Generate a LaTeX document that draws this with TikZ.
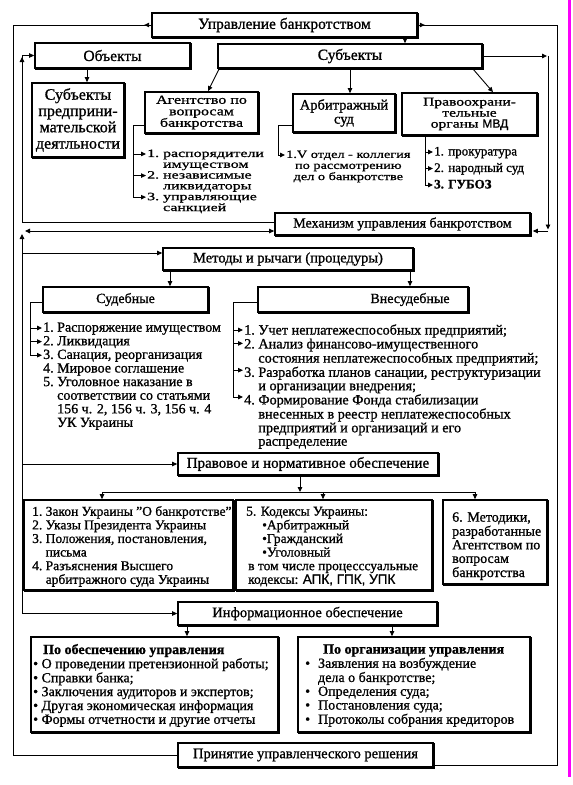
\documentclass[tikz,border=0pt]{standalone}
\usepackage{fontspec}
\setmainfont[FakeBold=1.0]{Liberation Serif}
\setsansfont[FakeBold=0.8]{Liberation Sans}
\newfontfamily\wf[FakeStretch=1.3,FakeBold=1.0]{Liberation Serif}
\newfontfamily\wwf[FakeStretch=1.42,FakeBold=1.0]{Liberation Serif}
\usetikzlibrary{arrows.meta}
\newcommand\fsz[2]{\fontsize{#1}{#2}\selectfont}
\definecolor{mag}{RGB}{250,0,250}
\begin{document}
\begin{tikzpicture}[x=1pt,y=-1pt,
 box/.style={draw,line width=1.7pt,inner sep=0pt,align=center,font=\fsz{14.5}{15}},
 ln/.style={line width=0.9pt},
 arr/.style={line width=0.9pt,-{Triangle[length=5pt,width=4.5pt]}},
 dbl/.style={line width=0.9pt,{Triangle[length=5pt,width=4.5pt]}-{Triangle[length=5pt,width=4.5pt]}},
 shd/.style={line width=1.1pt},
 lst/.style={inner sep=0pt,anchor=north west}]
\useasboundingbox (0,0) rectangle (573,785);
\fill[white] (0,0) rectangle (573,785);
\draw[mag,line width=3pt] (569.5,0) -- (569.5,777);

% ---------- boxes
\node[box,minimum width=265pt,minimum height=24pt,font=\fsz{15.5}{16}] (U) at (284.5,25) {Управление банкротством};
\node[box,minimum width=155pt,minimum height=25pt,font=\fsz{15.5}{16}] (Obj) at (112.5,55.5) {Объекты};
\node[box,minimum width=264pt,minimum height=24pt,font=\fsz{15.5}{16}] (Subj) at (350,56) {Субъекты};
\node[box,minimum width=92pt,minimum height=74pt,font=\fsz{16}{16.3}] (SPD) at (78,120) {Субъекты\\предприни-\\мательской\\деятльности};
\node[box,minimum width=113pt,minimum height=41pt,font=\wf\fsz{12.3}{11.5}] (Ag) at (201.5,112.5) {Агентство по\\вопросам\\банкротства};
\node[box,minimum width=102pt,minimum height=38pt,font=\fsz{14.5}{14}] (Arb) at (344,113) {Арбитражный\\суд};
\node[box,minimum width=135pt,minimum height=42pt,font=\wf\fsz{12}{11}] (MVD) at (469.5,114) {Правоохрани-\\тельные\\органы {\sffamily МВД}};
\node[box,minimum width=255pt,minimum height=22pt,font=\fsz{14}{15}] (Mech) at (402.5,224) {Механизм управления банкротством};
\node[box,minimum width=250pt,minimum height=22pt] (Met) at (288,259) {Методы и рычаги (процедуры)};
\node[box,minimum width=165pt,minimum height=25pt,font=\fsz{14}{15}] (Sud) at (125.5,299.5) {Судебные};
\node[box,minimum width=210pt,minimum height=25pt] (Vns) at (363,299.5) {};
\node[inner sep=0pt,font=\fsz{14}{15}] (VnsT) at (410,299.5) {Внесудебные};
\node[box,minimum width=260pt,minimum height=22pt,font=\fsz{15}{15}] (Prv) at (308,464) {Правовое и нормативное обеспечение};
\node[box,minimum width=209pt,minimum height=90pt] (B1) at (128.5,545) {};
\node[box,minimum width=196pt,minimum height=90pt] (B2) at (334,545) {};
\node[box,minimum width=104pt,minimum height=84pt] (B3) at (495,542) {};
\node[box,minimum width=259pt,minimum height=23pt] (Inf) at (307.5,613.5) {Информационное обеспечение};
\node[box,minimum width=247pt,minimum height=95pt] (IL) at (154.5,684.5) {};
\node[box,minimum width=232pt,minimum height=95pt] (IR) at (414,684.5) {};
\node[box,minimum width=255pt,minimum height=24pt] (Pr) at (305.5,755) {Принятие управленческого решения};

% heavier bottom and right edges
\foreach \n in {U,Obj,Subj,SPD,Ag,Arb,MVD,Mech,Met,Sud,Vns,Prv,B1,B2,B3,Inf,IL,IR,Pr}
  \draw[shd] ([xshift=1pt,yshift=-1pt]\n.south west) -- ([xshift=1pt,yshift=-1pt]\n.south east) -- ([xshift=1pt,yshift=-1pt]\n.north east);

% ---------- lists
\node[lst,font=\wwf\fsz{11.2}{10.8}] (agl) at (147,149.2) {\begin{tabular}{@{}l@{\ }l@{}}1. & распорядители\\ & имуществом\\2. & независимые\\ & ликвидаторы\\3. & управляющие\\ & санкцией\end{tabular}};
\node[lst,font=\wf\fsz{11}{11}] (arl) at (286,150) {\begin{tabular}{@{}c@{}}1.V отдел - коллегия\\по рассмотрению\\дел о банкротстве\end{tabular}};
\node[lst,font=\fsz{13}{16.5}] (mvl) at (434,143.7) {\begin{tabular}{@{}l@{}}1. прокуратура\\2. народный суд\\\textbf{3. ГУБОЗ}\end{tabular}};
\node[lst,font=\fsz{14}{13.6}] (sdl) at (43,322) {\begin{tabular}{@{}l@{\ }l@{}}1. & Распоряжение имуществом\\2. & Ликвидация\\3. & Санация, реорганизация\\4. & Мировое соглашение\\5. & Уголовное наказание в\\ & соответствии со статьями\\ & 156 ч. 2, 156 ч. 3, 156 ч. 4\\ & УК Украины\end{tabular}};
\node[lst,font=\fsz{14.2}{13.4}] (vnl) at (244,324.2) {\begin{tabular}{@{}l@{\ }l@{}}1. & Учет неплатежеспособных предприятий;\\2. & Анализ финансово-имущественного\\ & состояния неплатежеспособных предприятий;\\3. & Разработка планов санации, реструктуризации\\ & и организации внедрения;\\4. & Формирование Фонда стабилизации\\ & внесенных в реестр неплатежеспособных\\ & предприятий и организаций и его\\ & распределение\end{tabular}};
\node[lst,font=\fsz{13.5}{13.6}] (b1l) at (32,505.9) {\begin{tabular}{@{}l@{\ }l@{}}1. & Закон Украины "О банкротстве"\\2. & Указы Президента Украины\\3. & Положения, постановления,\\ & письма\\4. & Разъяснения Высшего\\ & арбитражного суда Украины\end{tabular}};
\node[lst,font=\fsz{13.5}{13.6}] (b2l) at (246,505.9) {\begin{tabular}{@{}l@{}}5. Кодексы Украины:\\\hspace*{16pt}•Арбитражный\\\hspace*{16pt}•Гражданский\\\hspace*{16pt}•Уголовный\\\hspace*{2pt}в том числе процесссуальные\\\hspace*{2pt}кодексы: {\sffamily АПК, ГПК, УПК}\end{tabular}};
\node[lst,font=\fsz{14}{13.6}] (b3l) at (452,511.9) {\begin{tabular}{@{}l@{}}6. Методики,\\разработанные\\Агентством по\\вопросам\\банкротства\end{tabular}};
\node[lst,font=\fsz{14}{13.8}] (ill) at (33,643.8) {\begin{tabular}{@{}l@{}}\hspace*{10pt}\textbf{По обеспечению управления}\\• О проведении претензионной работы;\\• Справки банка;\\• Заключения аудиторов и экспертов;\\• Другая экономическая информация\\• Формы отчетности и другие отчеты\end{tabular}};
\node[lst,font=\fsz{14}{13.8}] (irl) at (305,643.8) {\begin{tabular}{@{}l@{\hspace{8pt}}l@{}}\multicolumn{2}{@{}l@{}}{\hspace*{18pt}\textbf{По организации управления}}\\•&Заявления на возбуждение\\ & дела о банкротстве;\\•&Определения суда;\\•&Постановления суда;\\•&Протоколы собрания кредиторов\end{tabular}};

% ---------- connectors, top
\coordinate (c405) at (405,0);
\draw[arr] (U.south -| c405) -- (Subj.north -| c405);
\coordinate (c87) at (87,0);
\draw[arr] (Obj.south -| c87) -- (SPD.north -| c87);
\draw[arr] ([xshift=2pt]Subj.south west) -- ([xshift=6.5pt]Ag.north);
\draw[arr] (Subj.south) -- (Arb.north -| Subj.south);
\draw[arr] ([xshift=-10pt]Subj.south east) -- ([xshift=23.5pt]MVD.north);

% outer loop
\coordinate (ol1) at (13,25); \coordinate (ol2) at (13,755);
\draw[ln] (U.west) -- (ol1) -- (ol2) -- (Pr.west);
\draw[arr] (U.west) -- ([xshift=-7pt]U.west);
\coordinate (or1) at (557,25); \coordinate (or2) at (557,765);
\draw[ln] (U.east) -- (or1) -- (or2) -- (Pr.east |- or2);
\draw[arr] (U.east) -- ([xshift=7pt]U.east);

% left inner
\coordinate (lx) at (22,0);
\coordinate (m1) at ([yshift=2pt]Mech.west);
\draw[arr] (m1) -- (m1 -| lx) |- (Obj.west);
\coordinate (ob) at (Obj.west -| lx);
\draw[arr] ([yshift=-12pt]ob) -- ([yshift=-1.5pt]ob);
\coordinate (m2) at ([yshift=-7pt]Mech.west);
\coordinate (m2l) at (m2 -| lx);
\draw[dbl] ([xshift=3pt]m2l) -- (m2);
\draw[arr] (Inf.west -| lx) -- ([yshift=-3pt]m2l);
\coordinate (mt) at ([yshift=6pt]Met.west);
\draw[arr] (mt -| lx) -- (mt);
\draw[arr] (Prv.west -| lx) -- (Prv.west);
\draw[arr] (Inf.west -| lx) -- (Inf.west);

% right inner
\coordinate (rx) at (548,0);
\coordinate (sr) at (Subj.east -| rx);
\coordinate (m3) at ([yshift=-7pt]Mech.east);
\coordinate (m3r) at (m3 -| rx);
\draw[arr] (Subj.east) -- ([xshift=-1pt]sr);
\draw[arr] (sr) -- ([yshift=1.5pt]m3r);
\draw[arr] (m3r) -- ([xshift=2pt]m3);

% sub-lists
\coordinate (ax) at (133,0);
\coordinate (ag1) at ([yshift=-12.5pt]Ag.west);
\foreach \d in {4.76pt,26.36pt,47.96pt} \draw[arr] (ag1) -- (ag1 -| ax) |- ([xshift=-1pt,yshift=-\d]agl.north west);
\coordinate (bx) at (278,0);
\coordinate (ab1) at ([yshift=-12pt]Arb.west);
\draw[arr] (ab1) -- (ab1 -| bx) |- ([xshift=-1pt,yshift=-5pt]arl.north west);
\coordinate (mx) at (425,0);
\foreach \d in {8.3pt,24.8pt,41.3pt} \draw[arr] (MVD.south -| mx) |- ([xshift=-1pt,yshift=-\d]mvl.north west);

% methods
\coordinate (c170) at (170,0); \draw[arr] (Met.south -| c170) -- (Sud.north -| c170);
\coordinate (c410) at (410,0); \draw[arr] (Met.south -| c410) -- (Vns.north -| c410);
\coordinate (sx) at (30,0);
\coordinate (sw) at ([yshift=-2.5pt]Sud.west);
\foreach \d in {6pt,19.6pt,33.2pt} \draw[arr] (sw) -- (sw -| sx) |- ([xshift=-1pt,yshift=-\d]sdl.north west);
\coordinate (vx) at (233,0);
\coordinate (vw) at ([yshift=-2.5pt]Vns.west);
\foreach \d in {5.8pt,19.2pt,46pt,72.8pt} \draw[arr] (vw) -- (vw -| vx) |- ([xshift=-1pt,yshift=-\d]vnl.north west);

% legal
\coordinate (c300) at (300,0);
\coordinate (bus) at (300,492);
\draw[arr] (Prv.south -| c300) -- (bus);
\coordinate (bl) at (102,492); \coordinate (br) at (475,492); \coordinate (bm) at (323,492);
\draw[ln] (bl) -- (br);
\draw[arr] (bl) -- (B1.north -| bl);
\draw[arr] (bm) -- (B2.north -| bm);
\draw[arr] (br) -- (B3.north -| br);

% info
\coordinate (c187) at (187,0); \draw[arr] (Inf.south -| c187) -- (IL.north -| c187);
\coordinate (c392) at (392,0); \draw[arr] (Inf.south -| c392) -- (IR.north -| c392);
\end{tikzpicture}
\end{document}
